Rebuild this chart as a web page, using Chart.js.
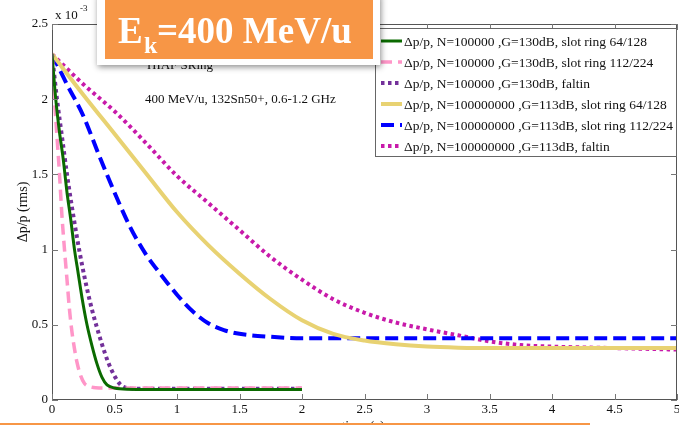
<!DOCTYPE html>
<html>
<head>
<meta charset="utf-8">
<script src="https://cdn.jsdelivr.net/npm/chart.js@4/dist/chart.umd.min.js"></script>
<style>
html,body{margin:0;padding:0;background:#fff;}
#wrap{width:679px;height:425px;position:relative;}
</style>
</head>
<body>
<div id="wrap"><canvas id="c" width="679" height="425"></canvas></div>
<script>
// ---- data (time in s, dp/p in units of 1e-3) ----
const seriesLabels = [
  'Δp/p, N=100000 ,G=130dB, slot ring 64/128',
  'Δp/p, N=100000 ,G=130dB, slot ring 112/224',
  'Δp/p, N=100000 ,G=130dB, faltin',
  'Δp/p, N=100000000 ,G=113dB, slot ring 64/128',
  'Δp/p, N=100000000 ,G=113dB, slot ring 112/224',
  'Δp/p, N=100000000 ,G=113dB, faltin'
];
const greenT = [0,0.03,0.06,0.09,0.12,0.15,0.18,0.21,0.24,0.28,0.32,0.36,0.40,0.44,0.5,0.6,1.0,1.5,2.0];
const greenV = [2.3,2.0,1.78,1.6,1.38,1.2,1.0,0.84,0.68,0.5,0.36,0.24,0.15,0.1,0.08,0.072,0.07,0.07,0.07];
const pinkT = [0,0.02,0.04,0.06,0.08,0.10,0.12,0.14,0.16,0.18,0.20,0.23,0.26,0.30,0.35,0.5,1,1.5,2];
const pinkV = [2.3,2.0,1.75,1.5,1.22,1.0,0.8,0.6,0.45,0.34,0.25,0.16,0.11,0.09,0.082,0.08,0.08,0.08,0.08];
const purpleT = [0,0.04,0.08,0.12,0.16,0.20,0.24,0.28,0.32,0.36,0.40,0.45,0.50,0.55,0.6,0.7,1,1.5,2];
const purpleV = [2.3,2.0,1.75,1.5,1.28,1.08,0.9,0.74,0.6,0.48,0.37,0.25,0.16,0.1,0.08,0.075,0.075,0.075,0.075];
const yellowT = [0,0.25,0.5,0.75,1.0,1.25,1.5,1.75,2.0,2.25,2.5,2.75,3.0,3.25,3.5,4,4.5,5];
const yellowV = [2.3,2.03,1.77,1.51,1.25,1.03,0.84,0.67,0.53,0.44,0.395,0.37,0.355,0.348,0.345,0.345,0.345,0.345];
const blueT = [0,0.125,0.25,0.375,0.5,0.625,0.75,0.875,1.0,1.125,1.25,1.375,1.5,1.75,2.0,2.5,3,4,5];
const blueV = [2.3,2.09,1.89,1.63,1.38,1.15,0.97,0.83,0.70,0.59,0.51,0.465,0.44,0.42,0.41,0.41,0.41,0.41,0.41];
const magentaT = [0,0.25,0.5,0.75,1.0,1.25,1.5,1.75,2.0,2.25,2.5,2.75,3.0,3.25,3.5,3.75,4.0,4.5,5];
const magentaV = [2.3,2.1,1.92,1.71,1.49,1.31,1.13,0.95,0.8,0.67,0.58,0.515,0.47,0.43,0.39,0.365,0.355,0.345,0.335];
const xTicks = [0,0.5,1,1.5,2,2.5,3,3.5,4,4.5,5];
const yTicks = [0,0.5,1,1.5,2,2.5];

function pts(t, v){ return t.map((x,i)=>({x:x, y:v[i]})); }

const SERIF = '"Liberation Serif","Times New Roman",serif';

const datasets = [
  {label:seriesLabels[0], data:pts(greenT,greenV), borderColor:'#0b6a00', borderWidth:3, borderDash:[]},
  {label:seriesLabels[1], data:pts(pinkT,pinkV), borderColor:'#ff96c8', borderWidth:3.5, borderDash:[11,6]},
  {label:seriesLabels[2], data:pts(purpleT,purpleV), borderColor:'#73309a', borderWidth:4, borderDash:[3.5,3.5]},
  {label:seriesLabels[3], data:pts(yellowT,yellowV), borderColor:'#e8d272', borderWidth:4, borderDash:[]},
  {label:seriesLabels[4], data:pts(blueT,blueV), borderColor:'#0000ff', borderWidth:4, borderDash:[13,6]},
  {label:seriesLabels[5], data:pts(magentaT,magentaV), borderColor:'#c81aaa', borderWidth:4, borderDash:[3.5,3.5]}
].map(d=>Object.assign(d,{fill:false, pointRadius:0, cubicInterpolationMode:'monotone', borderCapStyle:'butt', borderJoinStyle:'round'}));

const frame = {
  id:'frame',
  afterDatasetsDraw(chart){
    const ctx = chart.ctx, a = chart.chartArea;
    const xs = chart.scales.x, ys = chart.scales.y;
    ctx.save();
    ctx.strokeStyle = '#555';
    ctx.lineWidth = 1;
    ctx.strokeRect(a.left+0.5, a.top+0.5, a.right-a.left-1, a.bottom-a.top-1);
    ctx.strokeStyle = '#777';
    ctx.beginPath();
    xTicks.forEach(v=>{
      const x = Math.round(xs.getPixelForValue(v))+0.5;
      ctx.moveTo(x, a.bottom); ctx.lineTo(x, a.bottom-6);
      ctx.moveTo(x, a.top); ctx.lineTo(x, a.top+6);
    });
    yTicks.forEach(v=>{
      const y = Math.round(ys.getPixelForValue(v))+0.5;
      ctx.moveTo(a.left, y); ctx.lineTo(a.left+6, y);
      ctx.moveTo(a.right, y); ctx.lineTo(a.right-6, y);
    });
    ctx.stroke();
    ctx.restore();
  },
  afterDraw(chart){
    const ctx = chart.ctx, a = chart.chartArea;
    ctx.save();
    // exponent
    ctx.fillStyle = '#111';
    ctx.textBaseline = 'alphabetic';
    ctx.font = '13px '+SERIF;
    ctx.fillText('x 10', 55, 19);
    ctx.font = '9px '+SERIF;
    ctx.fillText('-3', 80, 11);
    // annotations
    ctx.font = '13px '+SERIF;
    ctx.fillText('HIAF SRing', 147, 69);
    ctx.fillText('400 MeV/u, 132Sn50+, 0.6-1.2 GHz', 145, 103);
    // y label
    ctx.save();
    ctx.translate(27, 212);
    ctx.rotate(-Math.PI/2);
    ctx.textAlign = 'center';
    ctx.font = '14px '+SERIF;
    ctx.fillText('Δp/p (rms)', 0, 0);
    ctx.restore();
    // x label (cut off by window)
    ctx.textAlign = 'center';
    ctx.font = '14px '+SERIF;
    ctx.fillText('time (s)', 363, 431);
    ctx.textAlign = 'left';
    // legend
    const lx = 375, ly = 28, lw = 302, lh = 129;
    ctx.fillStyle = '#fff';
    ctx.fillRect(lx, ly, lw, lh);
    ctx.strokeStyle = '#666';
    ctx.lineWidth = 1;
    ctx.strokeRect(lx+0.5, ly+0.5, lw-1, lh-1);
    const rowY = [41, 62, 83, 104, 125, 146];
    ctx.font = '13.5px '+SERIF;
    ctx.textBaseline = 'middle';
    chart.data.datasets.forEach((d,i)=>{
      const y = rowY[i];
      ctx.save();
      ctx.strokeStyle = d.borderColor;
      ctx.lineWidth = d.borderWidth;
      ctx.setLineDash(d.borderDash);
      ctx.lineCap = 'butt';
      ctx.beginPath(); ctx.moveTo(381, y); ctx.lineTo(402, y); ctx.stroke();
      ctx.restore();
      ctx.fillStyle = '#111';
      ctx.fillText(d.label, 404, y+1);
    });
    // orange title box
    ctx.save();
    ctx.shadowColor = 'rgba(0,0,0,0.45)';
    ctx.shadowBlur = 6;
    ctx.shadowOffsetX = 1;
    ctx.shadowOffsetY = 2;
    ctx.fillStyle = '#ffffff';
    ctx.fillRect(97, -6, 283, 71);
    ctx.restore();
    ctx.fillStyle = '#f79646';
    ctx.fillRect(105, -4, 268, 63);
    ctx.fillStyle = '#ffffff';
    ctx.textBaseline = 'alphabetic';
    ctx.font = 'bold 37px '+SERIF;
    ctx.fillText('E', 118, 43);
    ctx.font = 'bold 24px '+SERIF;
    ctx.fillText('k', 144, 53);
    ctx.font = 'bold 37px '+SERIF;
    ctx.fillText('=400 MeV/u', 157, 43);
    // bottom orange line
    ctx.strokeStyle = '#f79646';
    ctx.lineWidth = 2;
    ctx.beginPath(); ctx.moveTo(0, 424); ctx.lineTo(590, 424); ctx.stroke();
    ctx.restore();
  }
};

new Chart(document.getElementById('c'), {
  type:'line',
  data:{datasets:datasets},
  options:{
    responsive:false,
    animation:false,
    layout:{padding:{top:24, right:2, left:0, bottom:0}},
    plugins:{legend:{display:false}, tooltip:{enabled:false}},
    scales:{
      x:{
        type:'linear', min:0, max:5,
        afterBuildTicks(s){ s.ticks = xTicks.map(v=>({value:v})); },
        afterFit(s){ s.height = 25; s.paddingLeft = 0; s.paddingRight = 0; },
        grid:{display:false, drawTicks:false},
        border:{display:false},
        ticks:{color:'#111', padding:2, maxRotation:0, font:{family:SERIF, size:13}, callback:(v)=>String(v)}
      },
      y:{
        type:'linear', min:0, max:2.5,
        afterBuildTicks(s){ s.ticks = yTicks.map(v=>({value:v})); },
        afterFit(s){ s.width = 52; s.paddingTop = 0; s.paddingBottom = 0; },
        grid:{display:false, drawTicks:false},
        border:{display:false},
        ticks:{color:'#111', padding:4, font:{family:SERIF, size:13}, callback:(v)=>String(v)}
      }
    }
  },
  plugins:[frame]
});
</script>
</body>
</html>
